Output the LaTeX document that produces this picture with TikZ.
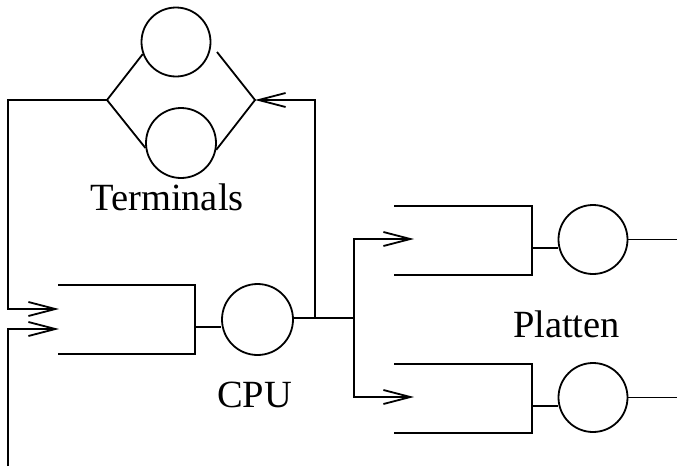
\documentclass[tikz,border=0pt]{standalone}
\usepackage{fontspec}
\setmainfont{Liberation Serif}
\usetikzlibrary{arrows.meta}
\begin{document}
\begin{tikzpicture}[x=1pt,y=-1pt,
  line width=1.8pt,
  server/.style={circle,draw,minimum size=69pt,inner sep=0pt},
  caption/.style={font=\fontsize{38.5}{46}\selectfont,inner sep=0pt,anchor=base},
  flow/.style={-{Straight Barb[length=27pt,width=14pt]}}]
\useasboundingbox (0,0) rectangle (677,466);

% service stations
\node[server] (t1) at (176,42) {};
\node[server,minimum size=70pt] (t2) at (181,143) {};
\node[server,minimum size=71pt] (cpu) at (257.5,319.5) {};
\node[server] (p1) at (593,239.5) {};
\node[server] (p2) at (593,397.5) {};

% labels
\node[caption] (lt) at (167,210) {Terminals};
\node[caption] (lc) at (254.5,407) {CPU};
\node[caption] (lp) at (566.5,337) {Platten};

% terminal fork and join
\coordinate (tin) at (107,100);
\coordinate (tout) at (255,100);
\coordinate (t1r) at (217,52);
\draw (t1.200) -- (tin) -- (t2.188);
\draw (t1r) -- (tout) -- (t2.349);

% CPU queue
\coordinate (cqa) at (58,285);
\coordinate (cqb) at (195,354);
\coordinate (cqc) at (58,354);
\coordinate (cqo) at (195,327);
\coordinate (cin1) at (59,309);
\coordinate (cin2) at (59,329);
\draw (cqa) -| (cqb) -- (cqc);
\draw (cqo) -- (cqo -| cpu.west);

% feedback from terminals and external arrivals
\coordinate (lcorner) at (8,100);
\coordinate (ext) at (8,466);
\draw[flow] (tin) -- (lcorner) |- (cin1);
\draw[flow] (ext) |- (cin2);

% CPU output, branch to terminals and disks
\coordinate (tap) at (315,318);
\coordinate (split) at (354,318);
\draw (cpu.east |- split) -- (split);
\draw[flow] (tap) |- (tout);

% disk queues
\coordinate (d1in) at (414,239);
\coordinate (d2in) at (414,397);
\draw[flow] (split) |- (d1in);
\draw[flow] (split) |- (d2in);

\coordinate (dqa) at (394,206);
\coordinate (dqb) at (532,275);
\coordinate (dqc) at (394,275);
\coordinate (dqo) at (532,248);
\draw (dqa) -| (dqb) -- (dqc);
\draw (dqo) -- (dqo -| p1.west);

\coordinate (eqa) at (394,364);
\coordinate (eqb) at (532,433);
\coordinate (eqc) at (394,433);
\coordinate (eqo) at (532,406);
\draw (eqa) -| (eqb) -- (eqc);
\draw (eqo) -- (eqo -| p2.west);

% disk outputs
\coordinate (p1out) at (677,239.5);
\coordinate (p2out) at (677,397.5);
\draw (p1.east) -- (p1out);
\draw (p2.east) -- (p2out);
\end{tikzpicture}
\end{document}
